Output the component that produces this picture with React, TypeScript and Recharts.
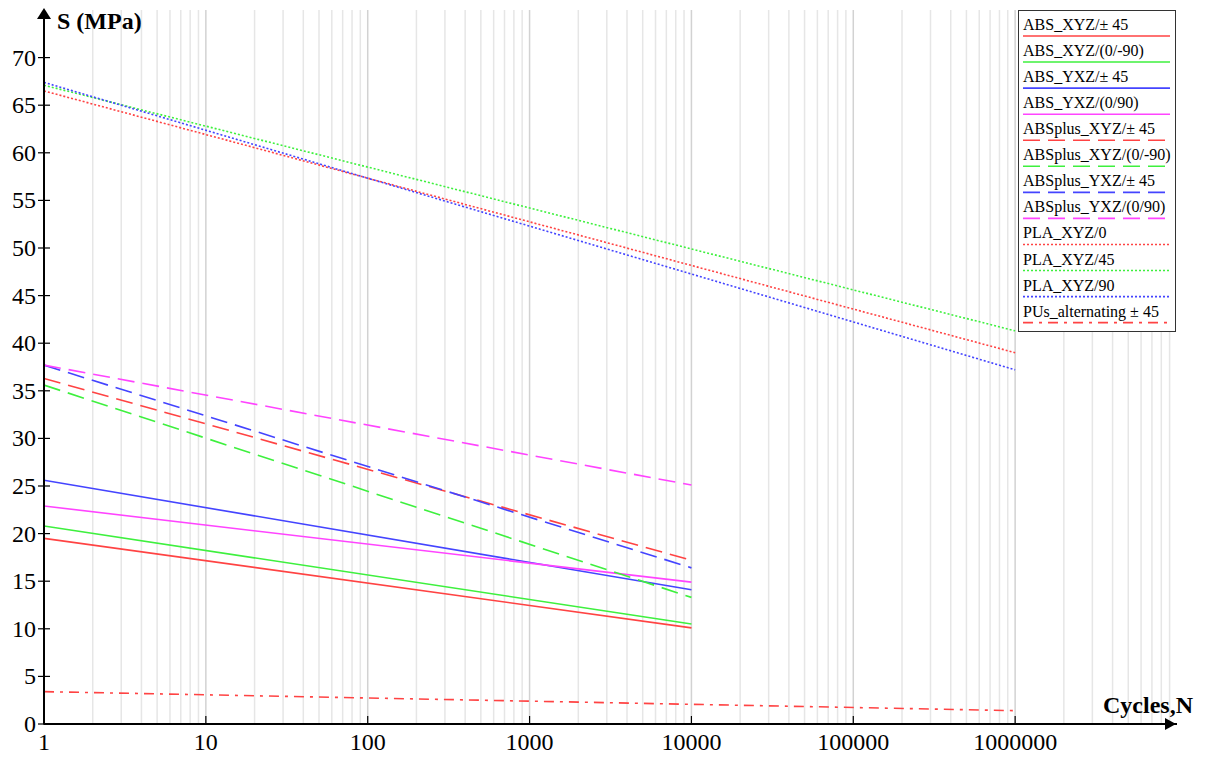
import React from 'react';
import { LineChart, Line, XAxis, YAxis, ReferenceLine, Legend } from 'recharts';

// ---- data ----
const xTicks = [1, 10, 100, 1000, 10000, 100000, 1000000];
const yTicks = [0, 5, 10, 15, 20, 25, 30, 35, 40, 45, 50, 55, 60, 65, 70];

const absXyz45 = [{ n: 1, s: 19.5 }, { n: 10000, s: 10.1 }];
const absXyz090 = [{ n: 1, s: 20.8 }, { n: 10000, s: 10.5 }];
const absYxz45 = [{ n: 1, s: 25.6 }, { n: 10000, s: 14.1 }];
const absYxz090 = [{ n: 1, s: 22.9 }, { n: 10000, s: 14.9 }];
const absplusXyz45 = [{ n: 1, s: 36.3 }, { n: 10000, s: 17.2 }];
const absplusXyz090 = [{ n: 1, s: 35.6 }, { n: 10000, s: 13.3 }];
const absplusYxz45 = [{ n: 1, s: 37.7 }, { n: 10000, s: 16.4 }];
const absplusYxz090 = [{ n: 1, s: 37.7 }, { n: 10000, s: 25.1 }];
const plaXyz0 = [{ n: 1, s: 66.5 }, { n: 1000000, s: 39.0 }];
const plaXyz45 = [{ n: 1, s: 67.1 }, { n: 1000000, s: 41.3 }];
const plaXyz90 = [{ n: 1, s: 67.4 }, { n: 1000000, s: 37.2 }];
const pusAlt45 = [{ n: 1, s: 3.4 }, { n: 1000000, s: 1.4 }];

const RED = '#ff4343';
const GREEN = '#3ef03e';
const BLUE = '#4444ff';
const MAG = '#ff44ff';
const SOLID = '';
const DASH = '17 8';
const DOT = '2 2';
const DASHDOT = '10 6 3 6';

const series = [
  { name: 'ABS_XYZ/± 45', data: absXyz45, color: RED, dash: SOLID },
  { name: 'ABS_XYZ/(0/-90)', data: absXyz090, color: GREEN, dash: SOLID },
  { name: 'ABS_YXZ/± 45', data: absYxz45, color: BLUE, dash: SOLID },
  { name: 'ABS_YXZ/(0/90)', data: absYxz090, color: MAG, dash: SOLID },
  { name: 'ABSplus_XYZ/± 45', data: absplusXyz45, color: RED, dash: DASH },
  { name: 'ABSplus_XYZ/(0/-90)', data: absplusXyz090, color: GREEN, dash: DASH },
  { name: 'ABSplus_YXZ/± 45', data: absplusYxz45, color: BLUE, dash: DASH },
  { name: 'ABSplus_YXZ/(0/90)', data: absplusYxz090, color: MAG, dash: DASH },
  { name: 'PLA_XYZ/0', data: plaXyz0, color: RED, dash: DOT },
  { name: 'PLA_XYZ/45', data: plaXyz45, color: GREEN, dash: DOT },
  { name: 'PLA_XYZ/90', data: plaXyz90, color: BLUE, dash: DOT },
  { name: 'PUs_alternating ± 45', data: pusAlt45, color: RED, dash: DASHDOT },
];

const minorGrid: number[] = [];
for (let d = 1; d <= 1000000; d *= 10) {
  for (let k = 2; k <= 9; k++) minorGrid.push(k * d);
}
const majorGrid = [10, 100, 1000, 10000, 100000, 1000000];

const SERIF = '"Liberation Serif", "Times New Roman", serif';

const XTick = (props: any) => {
  const { x, y, payload } = props;
  return (
    <g>
      <line x1={x} x2={x} y1={y - 8} y2={y + 1} stroke="#000" strokeWidth={1.2} />
      <text x={x} y={y + 26} textAnchor="middle" fontFamily={SERIF} fontSize={24} fill="#000">
        {payload.value}
      </text>
    </g>
  );
};

const YTick = (props: any) => {
  const { x, y, payload } = props;
  return (
    <g>
      <line x1={x - 6} x2={x + 6} y1={y} y2={y} stroke="#000" strokeWidth={1.2} />
      <text x={x - 8} y={y + 8} textAnchor="end" fontFamily={SERIF} fontSize={24} fill="#000">
        {payload.value}
      </text>
    </g>
  );
};

const renderLegend = () => (
  <svg width={158} height={323} style={{ display: 'block' }}>
    <rect x={0.5} y={0.5} width={157} height={321} fill="#fff" stroke="#333" strokeWidth={1} />
    {series.map((s, i) => (
      <g key={s.name}>
        <text x={5} y={20 + 26.06 * i} fontFamily={SERIF} fontSize={16} fill="#000">
          {s.name}
        </text>
        <line
          x1={5}
          x2={152}
          y1={26 + 26.06 * i}
          y2={26 + 26.06 * i}
          stroke={s.color}
          strokeWidth={1.6}
          strokeDasharray={s.dash || undefined}
        />
      </g>
    ))}
  </svg>
);

export default function App() {
  return (
    <div style={{ position: 'absolute', left: 0, top: 0, width: 1210, height: 758, background: '#fff' }}>
      <LineChart width={1210} height={758} margin={{ top: 10, right: 33, bottom: 0, left: 0 }}>
        <XAxis
          dataKey="n"
          type="number"
          scale="log"
          domain={[1, 10000000]}
          ticks={xTicks}
          allowDataOverflow
          height={34}
          tickSize={0}
          tickMargin={0}
          tick={<XTick />}
          axisLine={{ stroke: '#000', strokeWidth: 2 }}
          tickLine={false}
        />
        <YAxis
          type="number"
          domain={[0, 75]}
          ticks={yTicks}
          width={44}
          tickSize={0}
          tickMargin={0}
          tick={<YTick />}
          axisLine={{ stroke: '#000', strokeWidth: 2 }}
          tickLine={false}
          allowDataOverflow
        />
        {minorGrid.map((v) => (
          <ReferenceLine key={'m' + v} x={v} stroke="#e6e6e6" strokeWidth={1.5} />
        ))}
        {majorGrid.map((v) => (
          <ReferenceLine key={'M' + v} x={v} stroke="#d2d2d2" strokeWidth={1.5} />
        ))}
        {series.map((s) => (
          <Line
            key={s.name}
            data={s.data}
            dataKey="s"
            name={s.name}
            type="linear"
            stroke={s.color}
            strokeWidth={1.6}
            strokeDasharray={s.dash || undefined}
            dot={false}
            activeDot={false}
            isAnimationActive={false}
          />
        ))}
        <Legend
          content={renderLegend}
          layout="vertical"
          align="center"
          verticalAlign="middle"
          wrapperStyle={{ position: 'absolute', left: 1018, top: 10, width: 158, height: 323 }}
        />
      </LineChart>
      <svg
        width={1210}
        height={758}
        style={{ position: 'absolute', left: 0, top: 0, pointerEvents: 'none' }}
      >
        <rect x={1177} y={715} width={10} height={20} fill="#fff" />
        <polygon points="44,8 37,19 51,19" fill="#000" />
        <polygon points="1176,724 1165,718 1165,730" fill="#000" />
        <text x={57} y={29} fontFamily={SERIF} fontWeight="bold" fontSize={24} fill="#000">
          S (MPa)
        </text>
        <text x={1103} y={713} fontFamily={SERIF} fontWeight="bold" fontSize={24} fill="#000">
          Cycles,N
        </text>
      </svg>
    </div>
  );
}
